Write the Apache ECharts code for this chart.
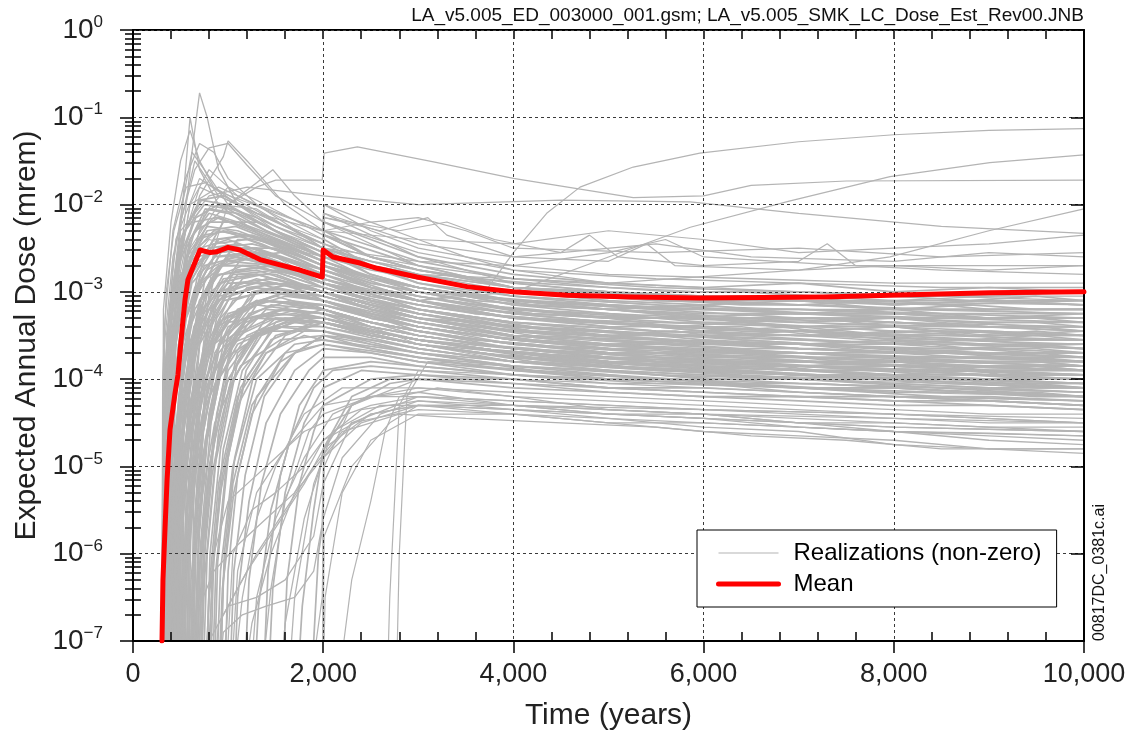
<!DOCTYPE html>
<html>
<head>
<meta charset="utf-8">
<title>Expected Annual Dose</title>
<script src="https://cdn.jsdelivr.net/npm/echarts@6/dist/echarts.min.js"></script>
<style>
  html, body { margin: 0; padding: 0; background: #fff; }
  #main { width: 1128px; height: 735px; }
</style>
</head>
<body>
<div id="main"></div>
<script>
/* realization curves: flat lists of [time, log10(dose)] pairs */
var earlyPeaks = [
  [300,-8, 330,-3.6, 420,-2.6, 650,-1.5, 900,-1.9, 1300,-2.1, 1990,-2.3, 2010,-2.0, 2500,-2.3, 3000,-2.5, 4000,-2.7, 5000,-2.8, 6500,-2.85, 8000,-2.9, 10000,-2.9],
  [310,-8, 340,-3.9, 450,-2.9, 600,-1.0, 700,-1.6, 900,-2.0, 1400,-2.4, 2000,-2.7, 3000,-3.0, 4000,-3.1, 6000,-3.3, 8000,-3.35, 10000,-3.4],
  [330,-8, 380,-4.0, 500,-2.6, 620,-1.4, 700,-0.72, 780,-1.0, 900,-1.6, 1100,-2.0, 1500,-2.3, 2000,-2.5, 3000,-2.8, 4000,-3.0, 6000,-3.1, 8000,-3.2, 10000,-3.25],
  [300,-8, 325,-4.3, 400,-3.3, 550,-2.5, 700,-1.9, 950,-1.45, 1000,-1.27, 1200,-1.5, 1600,-2.0, 2000,-2.3, 2010,-2.1, 3000,-2.6, 4000,-2.9, 5500,-3.05, 7000,-3.1, 10000,-3.15],
  [320,-8, 360,-3.5, 500,-2.2, 650,-1.6, 800,-1.35, 1000,-1.3, 1200,-1.55, 1500,-1.9, 2000,-2.2, 3000,-2.7, 4000,-2.95, 6000,-3.1, 8000,-3.1, 10000,-3.0],
  [340,-8, 400,-4.0, 520,-3.0, 700,-2.3, 1000,-2.0, 1300,-1.75, 1470,-1.6, 1700,-1.9, 2000,-2.2, 2010,-2.0, 2500,-2.2, 3000,-2.4, 3500,-2.6, 4000,-2.75, 5000,-2.9, 7000,-3.0, 10000,-3.1],
  [300,-8, 320,-3.2, 400,-2.2, 500,-1.5, 600,-1.15, 700,-1.5, 850,-1.8, 1100,-2.0, 1500,-2.25, 2000,-2.45, 2010,-2.2, 3000,-2.55, 4000,-2.75, 5500,-2.85, 7000,-2.9, 8500,-2.95, 10000,-2.95],
  [310,-8, 330,-3.4, 420,-2.3, 550,-1.7, 700,-1.3, 850,-1.4, 1000,-1.7, 1300,-2.0, 2000,-2.5, 3000,-2.8, 4000,-2.95, 5500,-3.05, 7000,-3.1, 8500,-3.1, 10000,-3.15],
  [300,-8, 330,-4.0, 420,-2.7, 550,-1.8, 620,-1.4, 750,-1.6, 1000,-2.0, 1500,-2.3, 2000,-2.55, 3000,-2.85, 4000,-3.05, 5500,-3.15, 7000,-3.2, 8500,-3.2, 10000,-3.25],
  [300,-8, 312,-4.0, 350,-3.0, 430,-2.3, 560,-1.8, 760,-1.75, 1100,-1.95, 1600,-2.25, 2000,-2.45, 2500,-2.6, 3000,-2.7, 4000,-2.85, 5000,-2.95, 6000,-3.0, 7000,-3.0, 8000,-3.05, 9000,-3.05, 10000,-3.05]
];

var upperLines = [
  [600,-8, 700,-4.0, 850,-2.5, 1000,-2.0, 1300,-1.8, 1500,-1.72, 1990,-1.72, 2010,-1.41, 2360,-1.34, 3160,-1.51, 4000,-1.70, 4570,-1.80, 5260,-1.92, 6000,-1.9, 6500,-1.78, 7500,-1.73, 10000,-1.72],
  [300,-8, 340,-4.0, 500,-2.8, 800,-2.4, 1500,-2.6, 2000,-2.9, 3000,-3.1, 3700,-3.0, 4000,-2.55, 4350,-2.1, 4700,-1.8, 5260,-1.57, 5960,-1.41, 7000,-1.28, 8000,-1.2, 9000,-1.15, 10000,-1.13],
  [350,-8, 420,-3.8, 600,-2.7, 900,-2.5, 2000,-2.9, 3000,-3.1, 4000,-3.0, 5000,-2.6, 5860,-2.26, 6900,-1.96, 7960,-1.68, 9010,-1.52, 10000,-1.43],
  [330,-8, 380,-3.6, 550,-2.6, 900,-2.3, 2000,-2.6, 3000,-2.8, 5000,-2.9, 7000,-2.75, 7960,-2.6, 9000,-2.3, 10000,-2.05],
  [310,-8, 350,-3.5, 500,-2.3, 800,-1.9, 1200,-1.8, 2000,-1.9, 3000,-2.0, 4500,-1.95, 5860,-1.97, 7000,-2.1, 8500,-2.25, 10000,-2.33],
  [320,-8, 370,-3.4, 600,-2.0, 900,-1.8, 1300,-2.0, 2000,-2.3, 3000,-2.4, 4000,-2.45, 5000,-2.3, 6000,-2.4, 7000,-2.55, 8000,-2.5, 9000,-2.45, 10000,-2.35],
  [300,-8, 340,-3.8, 450,-2.4, 700,-1.7, 900,-1.85, 1500,-2.1, 2000,-2.3, 2500,-2.2, 3000,-2.15, 3500,-2.3, 4000,-2.5, 5500,-2.55, 7000,-2.5, 8500,-2.6, 10000,-2.55],
  [330,-8, 370,-3.9, 480,-2.8, 600,-2.0, 800,-1.6, 1100,-1.9, 2000,-2.4, 2010,-2.15, 2800,-2.3, 3300,-2.2, 3800,-2.4, 4500,-2.55, 5500,-2.45, 6500,-2.6, 8000,-2.65, 9000,-2.55, 10000,-2.6],
  [350,-8, 420,-3.5, 600,-2.5, 900,-2.0, 1300,-2.05, 2000,-2.5, 3000,-2.65, 4000,-2.7, 5000,-2.55, 5600,-2.4, 6000,-2.6, 7500,-2.7, 10000,-2.7],
  [360,-8, 390,-3.8, 500,-2.5, 700,-1.8, 1000,-1.95, 1500,-2.2, 2000,-2.4, 2010,-2.15, 2600,-2.3, 3100,-2.15, 3300,-2.35, 4000,-2.6, 4500,-2.55, 4800,-2.35, 5100,-2.6, 6000,-2.7, 7000,-2.65, 7300,-2.45, 7600,-2.7, 8500,-2.75, 10000,-2.8],
  [400,-8, 440,-4.2, 550,-2.9, 750,-2.1, 1000,-1.8, 1300,-1.95, 2000,-2.35, 2010,-2.1, 3000,-2.45, 4000,-2.6, 5000,-2.65, 5400,-2.45, 5700,-2.7, 7000,-2.75, 8000,-2.7, 9000,-2.75, 10000,-2.7]
];

var mainBand = [
  [300,-8, 330,-5, 380,-3.9, 500,-3.0, 700,-2.5, 1000,-2.4, 1500,-2.6, 2000,-2.8, 3000,-3.1, 4000,-3.3, 5500,-3.35, 7000,-3.4, 8500,-3.38, 10000,-3.45],
  [310,-8, 350,-5.5, 420,-4.2, 550,-3.3, 750,-2.7, 1100,-2.6, 1600,-2.75, 2000,-2.9, 2010,-2.65, 3000,-3.0, 4000,-3.2, 5500,-3.3, 7000,-3.25, 8500,-3.3, 10000,-3.3],
  [320,-8, 360,-6, 450,-4.8, 600,-3.8, 800,-3.2, 1100,-2.9, 1500,-2.9, 2000,-3.0, 3000,-3.3, 4000,-3.5, 5500,-3.55, 7000,-3.6, 8500,-3.65, 10000,-3.6],
  [350,-8, 380,-4.5, 450,-3.2, 600,-2.4, 800,-2.1, 1100,-2.2, 1500,-2.4, 2000,-2.6, 2010,-2.35, 3000,-2.7, 4000,-2.95, 5500,-3.1, 7000,-3.15, 8500,-3.2, 10000,-3.2],
  [380,-8, 430,-5.5, 520,-4.3, 700,-3.4, 900,-3.0, 1300,-2.85, 1700,-2.95, 2000,-3.1, 3000,-3.4, 4000,-3.55, 5500,-3.7, 7000,-3.75, 8500,-3.8, 10000,-3.85],
  [400,-8, 440,-5, 520,-3.8, 650,-3.0, 850,-2.6, 1200,-2.55, 2000,-2.85, 3000,-3.2, 4000,-3.4, 5500,-3.5, 7000,-3.55, 8500,-3.6, 10000,-3.65],
  [420,-8, 480,-6, 580,-4.7, 750,-3.8, 1000,-3.3, 1400,-3.1, 2000,-3.15, 3000,-3.4, 4000,-3.6, 5500,-3.75, 7000,-3.85, 8500,-3.9, 10000,-3.95],
  [450,-8, 490,-5.2, 560,-4.0, 700,-3.1, 900,-2.7, 1300,-2.7, 2000,-2.95, 3000,-3.25, 4000,-3.45, 5500,-3.6, 7000,-3.6, 8500,-3.7, 10000,-3.75],
  [470,-8, 540,-6.2, 650,-4.9, 800,-4.0, 1100,-3.5, 1500,-3.3, 2000,-3.35, 3000,-3.6, 4000,-3.75, 5500,-3.85, 7000,-3.9, 8500,-4.0, 10000,-4.05],
  [500,-8, 540,-5.0, 620,-3.7, 750,-2.9, 950,-2.5, 1300,-2.5, 2000,-2.75, 2010,-2.5, 3000,-2.9, 4000,-3.1, 5500,-3.2, 7000,-3.3, 8500,-3.3, 10000,-3.35],
  [520,-8, 580,-5.8, 680,-4.5, 850,-3.6, 1100,-3.2, 1500,-3.05, 2000,-3.2, 3000,-3.5, 4000,-3.65, 5500,-3.8, 7000,-3.8, 8500,-3.85, 10000,-3.9],
  [550,-8, 600,-5.4, 700,-4.0, 850,-3.2, 1100,-2.8, 1500,-2.75, 2000,-2.9, 3000,-3.15, 4000,-3.3, 5500,-3.45, 7000,-3.5, 8500,-3.45, 10000,-3.5],
  [580,-8, 640,-6, 740,-4.6, 900,-3.7, 1200,-3.3, 1600,-3.2, 2000,-3.3, 3000,-3.55, 4000,-3.7, 5500,-3.9, 7000,-3.95, 8500,-4.05, 10000,-4.1],
  [600,-8, 650,-5.6, 760,-4.3, 950,-3.4, 1300,-3.0, 2000,-3.05, 3000,-3.3, 4000,-3.45, 5500,-3.55, 7000,-3.65, 8500,-3.7, 10000,-3.7],
  [650,-8, 700,-6.2, 800,-5.0, 1000,-4.0, 1300,-3.5, 1700,-3.35, 2000,-3.4, 3000,-3.65, 4000,-3.8, 5500,-3.95, 7000,-4.0, 8500,-4.1, 10000,-4.15],
  [700,-8, 760,-5.8, 880,-4.4, 1050,-3.6, 1400,-3.2, 2000,-3.25, 3000,-3.45, 4000,-3.6, 5500,-3.7, 7000,-3.8, 8500,-3.8, 10000,-3.85],
  [750,-8, 800,-6.4, 900,-5.2, 1100,-4.2, 1400,-3.7, 1800,-3.5, 2000,-3.55, 3000,-3.75, 4000,-3.9, 5500,-4.0, 7000,-4.1, 8500,-4.15, 10000,-4.2],
  [330,-8, 350,-4.2, 420,-3.0, 550,-2.3, 750,-2.0, 1000,-2.05, 1400,-2.3, 2000,-2.55, 2010,-2.3, 3000,-2.65, 4000,-2.85, 5500,-2.95, 7000,-3.0, 8500,-3.05, 10000,-3.0],
  [360,-8, 400,-5.0, 480,-3.6, 620,-2.8, 850,-2.4, 1200,-2.35, 2000,-2.7, 3000,-3.05, 4000,-3.25, 5500,-3.4, 7000,-3.45, 8500,-3.5, 10000,-3.5],
  [390,-8, 420,-5.2, 500,-4.0, 650,-3.2, 900,-2.8, 1300,-2.75, 2000,-3.0, 3000,-3.3, 4000,-3.5, 5500,-3.6, 7000,-3.7, 8500,-3.7, 10000,-3.8],
  [440,-8, 470,-6, 550,-4.8, 700,-3.6, 950,-3.1, 1400,-3.0, 2000,-3.1, 3000,-3.35, 4000,-3.55, 5500,-3.65, 7000,-3.7, 8500,-3.8, 10000,-3.8],
  [480,-8, 510,-5.5, 590,-4.2, 720,-3.3, 950,-2.85, 1300,-2.8, 2000,-3.0, 2010,-2.75, 3000,-3.1, 4000,-3.3, 5500,-3.4, 7000,-3.45, 8500,-3.55, 10000,-3.55],
  [530,-8, 560,-6, 650,-4.6, 800,-3.6, 1050,-3.1, 1500,-2.95, 2000,-3.05, 3000,-3.35, 4000,-3.5, 5500,-3.65, 7000,-3.75, 8500,-3.75, 10000,-3.8],
  [620,-8, 660,-5.4, 760,-4.1, 920,-3.3, 1200,-2.95, 1600,-2.9, 2000,-3.0, 3000,-3.25, 4000,-3.4, 5500,-3.5, 7000,-3.5, 8500,-3.6, 10000,-3.6],
  [680,-8, 720,-6.1, 820,-4.9, 1000,-3.9, 1300,-3.45, 1800,-3.3, 2000,-3.35, 3000,-3.6, 4000,-3.75, 5500,-3.85, 7000,-3.95, 8500,-4.0, 10000,-4.0],
  [800,-8, 850,-6.0, 950,-4.8, 1150,-3.9, 1500,-3.4, 2000,-3.4, 3000,-3.6, 4000,-3.7, 5500,-3.8, 7000,-3.85, 8500,-3.9, 10000,-3.95],
  [900,-8, 950,-6.3, 1050,-5.2, 1250,-4.3, 1600,-3.7, 2000,-3.6, 3000,-3.75, 4000,-3.85, 5500,-3.95, 7000,-4.05, 8500,-4.1, 10000,-4.2],
  [340,-8, 370,-4.6, 440,-3.4, 560,-2.6, 780,-2.25, 1100,-2.3, 1600,-2.5, 2000,-2.7, 3000,-2.95, 4000,-3.1, 5500,-3.2, 7000,-3.2, 8500,-3.25, 10000,-3.3],
  [370,-8, 410,-5.8, 500,-4.4, 650,-3.5, 900,-3.0, 1300,-2.9, 2000,-3.1, 3000,-3.45, 4000,-3.65, 5500,-3.75, 7000,-3.85, 8500,-3.9, 10000,-3.9],
  [410,-8, 450,-6.5, 560,-5.2, 720,-4.2, 1000,-3.6, 1500,-3.4, 2000,-3.45, 3000,-3.7, 4000,-3.85, 5500,-4.0, 7000,-4.05, 8500,-4.1, 10000,-4.15],
  [460,-8, 500,-5.9, 600,-4.5, 780,-3.5, 1000,-3.0, 1400,-2.85, 2000,-2.95, 3000,-3.2, 4000,-3.35, 5500,-3.45, 7000,-3.5, 8500,-3.55, 10000,-3.6],
  [560,-8, 610,-6.3, 720,-5.0, 900,-4.0, 1200,-3.5, 1600,-3.3, 2000,-3.35, 3000,-3.55, 4000,-3.7, 5500,-3.8, 7000,-3.85, 8500,-3.95, 10000,-3.95],
  [300,-8, 315,-5.5, 360,-4.0, 460,-3.0, 650,-2.3, 900,-2.15, 1300,-2.3, 2000,-2.6, 3000,-2.85, 4000,-3.0, 5500,-3.1, 7000,-3.1, 8500,-3.15, 10000,-3.1],
  [320,-8, 345,-6.0, 400,-4.6, 520,-3.6, 720,-2.9, 1000,-2.65, 1500,-2.7, 2000,-2.85, 3000,-3.1, 4000,-3.25, 5500,-3.3, 7000,-3.35, 8500,-3.4, 10000,-3.4],
  [640,-8, 700,-5.6, 800,-4.4, 1000,-3.5, 1300,-3.1, 2000,-3.15, 3000,-3.4, 4000,-3.55, 5500,-3.65, 7000,-3.7, 8500,-3.75, 10000,-3.75],
  [720,-8, 780,-6.0, 900,-4.6, 1100,-3.7, 1500,-3.3, 2000,-3.3, 3000,-3.5, 4000,-3.65, 5500,-3.75, 7000,-3.8, 8500,-3.85, 10000,-3.9],
  [860,-8, 920,-6.2, 1050,-5.0, 1300,-4.0, 1700,-3.6, 2000,-3.55, 3000,-3.7, 4000,-3.8, 5500,-3.9, 7000,-3.95, 8500,-4.0, 10000,-4.1],
  [380,-8, 410,-5.0, 470,-3.7, 600,-2.9, 800,-2.5, 1100,-2.45, 1700,-2.65, 2000,-2.8, 2010,-2.55, 3000,-2.9, 4000,-3.05, 5500,-3.15, 7000,-3.25, 8500,-3.25, 10000,-3.25],
  [430,-8, 470,-5.3, 550,-4.0, 700,-3.1, 950,-2.65, 1400,-2.6, 2000,-2.85, 3000,-3.2, 4000,-3.35, 5500,-3.45, 7000,-3.5, 8500,-3.5, 10000,-3.55],
  [950,-8, 1000,-6.2, 1100,-5.1, 1300,-4.2, 1700,-3.7, 2000,-3.6, 3000,-3.8, 4000,-3.95, 5500,-4.05, 7000,-4.1, 8500,-4.2, 10000,-4.25]
];

var bandExtra = [
  [300,-8, 345,-4.8, 430,-3.4, 600,-2.6, 850,-2.3, 1200,-2.35, 1700,-2.55, 2000,-2.7, 2500,-2.85, 3000,-2.95, 3500,-3.05, 4000,-3.1, 5000,-3.2, 6000,-3.15, 7000,-3.25, 8000,-3.2, 9000,-3.3, 10000,-3.25],
  [315,-8, 350,-5.4, 440,-3.9, 620,-2.9, 900,-2.55, 1300,-2.5, 2000,-2.8, 2500,-3.0, 3000,-3.1, 4000,-3.3, 5000,-3.35, 6000,-3.45, 7000,-3.4, 8000,-3.5, 9000,-3.45, 10000,-3.5],
  [335,-8, 370,-6.2, 460,-4.6, 640,-3.4, 900,-2.9, 1300,-2.8, 2000,-3.0, 2500,-3.2, 3000,-3.35, 4000,-3.5, 5000,-3.6, 6000,-3.55, 7000,-3.65, 8000,-3.7, 9000,-3.65, 10000,-3.7],
  [350,-8, 370,-5.0, 430,-3.5, 560,-2.5, 760,-2.05, 1000,-2.1, 1500,-2.35, 2000,-2.6, 2010,-2.35, 2500,-2.6, 3000,-2.75, 4000,-2.95, 5000,-3.0, 6000,-3.1, 7000,-3.05, 8000,-3.15, 9000,-3.1, 10000,-3.15],
  [365,-8, 400,-5.6, 480,-4.2, 640,-3.1, 900,-2.6, 1300,-2.55, 2000,-2.75, 2500,-2.95, 3000,-3.1, 4000,-3.25, 5000,-3.35, 6000,-3.4, 7000,-3.45, 8000,-3.4, 9000,-3.5, 10000,-3.45],
  [400,-8, 430,-6.3, 520,-5.0, 680,-3.9, 950,-3.3, 1400,-3.1, 2000,-3.2, 2500,-3.4, 3000,-3.5, 4000,-3.65, 5000,-3.75, 6000,-3.8, 7000,-3.85, 8000,-3.8, 9000,-3.9, 10000,-3.95],
  [430,-8, 460,-5.7, 540,-4.4, 700,-3.3, 950,-2.8, 1400,-2.7, 2000,-2.9, 2500,-3.1, 3000,-3.2, 4000,-3.35, 5000,-3.45, 6000,-3.5, 7000,-3.45, 8000,-3.55, 9000,-3.6, 10000,-3.6],
  [460,-8, 520,-6.6, 620,-5.3, 800,-4.2, 1100,-3.6, 1600,-3.35, 2000,-3.35, 2500,-3.5, 3000,-3.6, 4000,-3.75, 5000,-3.85, 6000,-3.9, 7000,-3.95, 8000,-4.0, 9000,-4.05, 10000,-4.05],
  [490,-8, 530,-5.3, 610,-3.9, 760,-3.0, 1000,-2.6, 1400,-2.55, 2000,-2.8, 2010,-2.6, 2500,-2.85, 3000,-2.95, 4000,-3.15, 5000,-3.25, 6000,-3.3, 7000,-3.35, 8000,-3.3, 9000,-3.4, 10000,-3.4],
  [540,-8, 590,-6.0, 690,-4.7, 860,-3.7, 1150,-3.2, 1600,-3.05, 2000,-3.1, 2500,-3.3, 3000,-3.4, 4000,-3.55, 5000,-3.65, 6000,-3.7, 7000,-3.7, 8000,-3.75, 9000,-3.8, 10000,-3.8],
  [570,-8, 610,-5.6, 710,-4.2, 880,-3.3, 1150,-2.85, 1600,-2.75, 2000,-2.9, 2500,-3.1, 3000,-3.2, 4000,-3.4, 5000,-3.45, 6000,-3.55, 7000,-3.6, 8000,-3.55, 9000,-3.6, 10000,-3.65],
  [610,-8, 670,-6.5, 780,-5.2, 960,-4.1, 1250,-3.5, 1700,-3.3, 2000,-3.3, 2500,-3.45, 3000,-3.55, 4000,-3.7, 5000,-3.8, 6000,-3.85, 7000,-3.9, 8000,-3.95, 9000,-4.0, 10000,-4.0],
  [660,-8, 710,-5.9, 820,-4.5, 1000,-3.5, 1300,-3.0, 1700,-2.9, 2000,-3.0, 2500,-3.2, 3000,-3.3, 4000,-3.45, 5000,-3.5, 6000,-3.6, 7000,-3.6, 8000,-3.65, 9000,-3.7, 10000,-3.7],
  [740,-8, 800,-6.5, 920,-5.3, 1100,-4.3, 1400,-3.7, 1800,-3.45, 2000,-3.45, 2500,-3.55, 3000,-3.65, 4000,-3.8, 5000,-3.9, 6000,-3.95, 7000,-4.0, 8000,-4.05, 9000,-4.1, 10000,-4.1],
  [820,-8, 870,-6.2, 980,-5.0, 1180,-4.0, 1500,-3.5, 2000,-3.35, 2500,-3.45, 3000,-3.55, 4000,-3.7, 5000,-3.75, 6000,-3.85, 7000,-3.9, 8000,-3.9, 9000,-3.95, 10000,-4.0],
  [300,-8, 318,-4.5, 380,-3.2, 500,-2.4, 700,-1.95, 950,-1.9, 1300,-2.1, 2000,-2.45, 2010,-2.2, 2500,-2.4, 3000,-2.6, 4000,-2.8, 5000,-2.9, 6000,-2.95, 7000,-2.9, 8000,-3.0, 9000,-2.95, 10000,-3.0],
  [325,-8, 360,-4.9, 440,-3.5, 600,-2.6, 800,-2.2, 1100,-2.2, 1600,-2.4, 2000,-2.6, 2500,-2.75, 3000,-2.85, 4000,-3.0, 5000,-3.1, 6000,-3.15, 7000,-3.1, 8000,-3.2, 9000,-3.2, 10000,-3.2],
  [345,-8, 380,-5.3, 460,-3.8, 620,-2.85, 850,-2.45, 1200,-2.4, 1700,-2.6, 2000,-2.75, 2500,-2.95, 3000,-3.05, 4000,-3.2, 5000,-3.3, 6000,-3.3, 7000,-3.4, 8000,-3.35, 9000,-3.4, 10000,-3.45],
  [375,-8, 420,-6.0, 500,-4.7, 660,-3.6, 900,-3.05, 1300,-2.95, 2000,-3.1, 2500,-3.25, 3000,-3.4, 4000,-3.55, 5000,-3.6, 6000,-3.7, 7000,-3.7, 8000,-3.75, 9000,-3.75, 10000,-3.8],
  [395,-8, 425,-5.4, 500,-4.0, 650,-3.0, 880,-2.55, 1250,-2.5, 2000,-2.8, 2010,-2.55, 2500,-2.8, 3000,-2.95, 4000,-3.1, 5000,-3.2, 6000,-3.25, 7000,-3.25, 8000,-3.3, 9000,-3.35, 10000,-3.35],
  [445,-8, 490,-6.1, 580,-4.8, 740,-3.8, 1000,-3.25, 1450,-3.1, 2000,-3.2, 2500,-3.35, 3000,-3.45, 4000,-3.6, 5000,-3.7, 6000,-3.75, 7000,-3.75, 8000,-3.85, 9000,-3.85, 10000,-3.9],
  [505,-8, 550,-5.7, 640,-4.3, 800,-3.35, 1050,-2.9, 1500,-2.85, 2000,-3.0, 2500,-3.15, 3000,-3.25, 4000,-3.4, 5000,-3.5, 6000,-3.5, 7000,-3.55, 8000,-3.6, 9000,-3.6, 10000,-3.65],
  [595,-8, 640,-6.0, 740,-4.6, 900,-3.6, 1200,-3.15, 1600,-3.0, 2000,-3.1, 2500,-3.25, 3000,-3.35, 4000,-3.5, 5000,-3.6, 6000,-3.6, 7000,-3.65, 8000,-3.7, 9000,-3.7, 10000,-3.75],
  [700,-8, 750,-6.3, 860,-5.0, 1050,-4.0, 1350,-3.5, 1800,-3.3, 2000,-3.3, 2500,-3.45, 3000,-3.55, 4000,-3.7, 5000,-3.75, 6000,-3.85, 7000,-3.85, 8000,-3.9, 9000,-3.95, 10000,-3.95],
  [1050,-8, 1100,-6.5, 1220,-5.4, 1400,-4.5, 1700,-3.9, 2000,-3.65, 2500,-3.7, 3000,-3.8, 4000,-3.9, 5000,-4.0, 6000,-4.05, 7000,-4.1, 8000,-4.1, 9000,-4.15, 10000,-4.2],
  [1150,-8, 1220,-6.3, 1350,-5.2, 1550,-4.4, 1850,-3.9, 2000,-3.75, 2500,-3.75, 3000,-3.85, 4000,-3.95, 5000,-4.05, 6000,-4.05, 7000,-4.15, 8000,-4.2, 9000,-4.2, 10000,-4.25],
  [1250,-8, 1320,-6.6, 1450,-5.5, 1650,-4.7, 1900,-4.1, 2100,-3.9, 2500,-3.85, 3000,-3.9, 4000,-4.0, 5000,-4.1, 6000,-4.1, 7000,-4.15, 8000,-4.2, 9000,-4.25, 10000,-4.3],
  [1400,-8, 1470,-6.4, 1600,-5.3, 1800,-4.5, 2000,-4.1, 2400,-3.9, 3000,-3.95, 4000,-4.05, 5000,-4.15, 6000,-4.2, 7000,-4.2, 8000,-4.25, 9000,-4.3, 10000,-4.35],
  [1700,-8, 1780,-6.6, 1900,-5.5, 2000,-4.8, 2300,-4.2, 2700,-4.0, 3000,-4.0, 4000,-4.1, 5000,-4.15, 6000,-4.2, 7000,-4.25, 8000,-4.3, 9000,-4.3, 10000,-4.35],
  [300,-8, 320,-5.8, 370,-4.3, 470,-3.3, 650,-2.7, 900,-2.5, 1300,-2.55, 2000,-2.9, 2500,-3.05, 3000,-3.15, 4000,-3.3, 5000,-3.35, 6000,-3.45, 7000,-3.5, 8000,-3.5, 9000,-3.55, 10000,-3.55],
  [310,-8, 335,-6.5, 400,-5.0, 520,-3.9, 720,-3.2, 1000,-2.9, 1500,-2.9, 2000,-3.05, 2500,-3.2, 3000,-3.3, 4000,-3.45, 5000,-3.55, 6000,-3.6, 7000,-3.6, 8000,-3.7, 9000,-3.7, 10000,-3.75],
  [355,-8, 395,-6.8, 490,-5.5, 660,-4.3, 920,-3.6, 1300,-3.3, 2000,-3.35, 2500,-3.5, 3000,-3.6, 4000,-3.75, 5000,-3.85, 6000,-3.9, 7000,-3.95, 8000,-3.95, 9000,-4.0, 10000,-4.05],
  [420,-8, 450,-5.1, 530,-3.7, 680,-2.8, 900,-2.4, 1250,-2.35, 1700,-2.5, 2000,-2.65, 2010,-2.4, 2500,-2.7, 3000,-2.85, 4000,-3.05, 5000,-3.15, 6000,-3.2, 7000,-3.2, 8000,-3.25, 9000,-3.3, 10000,-3.3],
  [470,-8, 510,-6.4, 600,-5.1, 760,-4.0, 1000,-3.4, 1450,-3.15, 2000,-3.2, 2500,-3.4, 3000,-3.5, 4000,-3.65, 5000,-3.7, 6000,-3.8, 7000,-3.8, 8000,-3.85, 9000,-3.9, 10000,-3.9],
  [520,-8, 560,-5.2, 650,-3.8, 800,-2.9, 1050,-2.5, 1500,-2.5, 2000,-2.7, 2500,-2.9, 3000,-3.0, 4000,-3.2, 5000,-3.25, 6000,-3.35, 7000,-3.4, 8000,-3.4, 9000,-3.45, 10000,-3.5],
  [630,-8, 680,-6.0, 780,-4.7, 950,-3.8, 1250,-3.3, 1700,-3.15, 2000,-3.2, 2500,-3.35, 3000,-3.45, 4000,-3.6, 5000,-3.65, 6000,-3.75, 7000,-3.75, 8000,-3.8, 9000,-3.85, 10000,-3.85],
  [760,-8, 810,-6.0, 920,-4.8, 1100,-3.8, 1400,-3.3, 1900,-3.15, 2000,-3.15, 2500,-3.3, 3000,-3.4, 4000,-3.55, 5000,-3.6, 6000,-3.65, 7000,-3.7, 8000,-3.75, 9000,-3.75, 10000,-3.8],
  [880,-8, 940,-6.4, 1060,-5.3, 1250,-4.4, 1550,-3.8, 2000,-3.5, 2500,-3.6, 3000,-3.7, 4000,-3.85, 5000,-3.9, 6000,-4.0, 7000,-4.0, 8000,-4.05, 9000,-4.1, 10000,-4.15],
  [330,-8, 355,-5.1, 420,-3.7, 540,-2.8, 740,-2.35, 1000,-2.3, 1500,-2.45, 2000,-2.65, 2500,-2.85, 3000,-2.95, 4000,-3.1, 5000,-3.15, 6000,-3.2, 7000,-3.25, 8000,-3.25, 9000,-3.3, 10000,-3.3],
  [360,-8, 390,-4.6, 470,-3.3, 600,-2.4, 800,-2.05, 1100,-2.1, 1600,-2.35, 2000,-2.55, 2500,-2.7, 3000,-2.8, 4000,-2.95, 5000,-3.05, 6000,-3.1, 7000,-3.15, 8000,-3.1, 9000,-3.2, 10000,-3.2],
  [480,-8, 520,-4.8, 600,-3.4, 740,-2.6, 950,-2.2, 1300,-2.2, 2000,-2.55, 2010,-2.3, 2500,-2.6, 3000,-2.75, 4000,-2.95, 5000,-3.0, 6000,-3.05, 7000,-3.1, 8000,-3.15, 9000,-3.1, 10000,-3.15],
  [560,-8, 600,-5.0, 700,-3.6, 860,-2.8, 1100,-2.4, 1500,-2.4, 2000,-2.65, 2500,-2.85, 3000,-2.95, 4000,-3.15, 5000,-3.2, 6000,-3.3, 7000,-3.3, 8000,-3.35, 9000,-3.4, 10000,-3.4],
  [305,-8, 325,-5.1, 380,-3.6, 480,-2.7, 660,-2.15, 900,-2.0, 1300,-2.15, 2000,-2.5, 2500,-2.65, 3000,-2.75, 4000,-2.9, 5000,-3.0, 6000,-3.05, 7000,-3.05, 8000,-3.1, 9000,-3.1, 10000,-3.1],
  [340,-8, 380,-6.6, 470,-5.3, 630,-4.1, 880,-3.4, 1300,-3.15, 2000,-3.25, 2500,-3.45, 3000,-3.55, 4000,-3.7, 5000,-3.8, 6000,-3.85, 7000,-3.9, 8000,-3.9, 9000,-3.95, 10000,-4.0],
  [900,-8, 960,-6.0, 1070,-4.9, 1260,-4.0, 1600,-3.5, 2000,-3.35, 2500,-3.45, 3000,-3.55, 4000,-3.65, 5000,-3.75, 6000,-3.8, 7000,-3.8, 8000,-3.85, 9000,-3.9, 10000,-3.9],
  [1000,-8, 1060,-6.2, 1180,-5.1, 1380,-4.2, 1700,-3.7, 2000,-3.5, 2500,-3.55, 3000,-3.65, 4000,-3.8, 5000,-3.85, 6000,-3.9, 7000,-3.95, 8000,-4.0, 9000,-4.0, 10000,-4.05],
  [1350,-8, 1420,-6.2, 1550,-5.1, 1750,-4.3, 2000,-3.9, 2500,-3.8, 3000,-3.85, 4000,-3.95, 5000,-4.0, 6000,-4.05, 7000,-4.1, 8000,-4.15, 9000,-4.15, 10000,-4.2],
  [1550,-8, 1620,-6.3, 1750,-5.2, 1900,-4.6, 2000,-4.3, 2500,-4.0, 3000,-3.95, 4000,-4.0, 5000,-4.1, 6000,-4.15, 7000,-4.2, 8000,-4.2, 9000,-4.25, 10000,-4.3],
  [1850,-8, 1950,-6.0, 1990,-5.7, 2010,-4.8, 2300,-4.3, 2700,-4.05, 3000,-4.0, 4000,-4.05, 5000,-4.1, 6000,-4.15, 7000,-4.2, 8000,-4.25, 9000,-4.25, 10000,-4.3]
];

var bandMore = [
  [305,-8, 330,-5.6, 390,-4.1, 500,-3.1, 680,-2.6, 950,-2.5, 1400,-2.6, 2000,-2.85, 2500,-3.0, 3000,-3.1, 3600,-3.2, 4200,-3.25, 5000,-3.3, 5700,-3.4, 6400,-3.35, 7200,-3.45, 8000,-3.4, 8800,-3.5, 9500,-3.45, 10000,-3.5],
  [320,-8, 350,-6.3, 420,-4.9, 560,-3.7, 760,-3.05, 1050,-2.8, 1500,-2.8, 2000,-3.0, 2500,-3.15, 3000,-3.3, 3600,-3.35, 4200,-3.45, 5000,-3.5, 5700,-3.45, 6400,-3.55, 7200,-3.6, 8000,-3.55, 8800,-3.65, 9500,-3.6, 10000,-3.65],
  [340,-8, 365,-5.9, 430,-4.4, 560,-3.3, 770,-2.75, 1050,-2.6, 1500,-2.7, 2000,-2.9, 2010,-2.7, 2500,-2.95, 3000,-3.05, 3600,-3.15, 4200,-3.2, 5000,-3.3, 5700,-3.25, 6400,-3.35, 7200,-3.3, 8000,-3.4, 8800,-3.35, 9500,-3.4, 10000,-3.4],
  [360,-8, 400,-6.7, 480,-5.4, 620,-4.3, 850,-3.6, 1200,-3.3, 1700,-3.25, 2000,-3.3, 2500,-3.45, 3000,-3.55, 3600,-3.65, 4200,-3.7, 5000,-3.8, 5700,-3.85, 6400,-3.8, 7200,-3.9, 8000,-3.95, 8800,-3.9, 9500,-4.0, 10000,-4.0],
  [380,-8, 405,-5.8, 470,-4.5, 600,-3.4, 820,-2.85, 1150,-2.7, 1700,-2.8, 2000,-2.95, 2500,-3.1, 3000,-3.2, 3600,-3.3, 4200,-3.4, 5000,-3.45, 5700,-3.5, 6400,-3.5, 7200,-3.55, 8000,-3.6, 8800,-3.55, 9500,-3.6, 10000,-3.6],
  [410,-8, 440,-6.0, 510,-4.8, 650,-3.7, 880,-3.1, 1250,-2.95, 1800,-3.0, 2000,-3.1, 2500,-3.25, 3000,-3.35, 3600,-3.45, 4200,-3.55, 5000,-3.6, 5700,-3.65, 6400,-3.7, 7200,-3.7, 8000,-3.75, 8800,-3.8, 9500,-3.8, 10000,-3.85],
  [450,-8, 480,-5.6, 560,-4.2, 700,-3.2, 930,-2.7, 1300,-2.6, 1800,-2.75, 2000,-2.85, 2500,-3.0, 3000,-3.1, 3600,-3.25, 4200,-3.3, 5000,-3.35, 5700,-3.4, 6400,-3.4, 7200,-3.5, 8000,-3.45, 8800,-3.5, 9500,-3.55, 10000,-3.55],
  [490,-8, 540,-6.5, 630,-5.2, 780,-4.1, 1050,-3.5, 1450,-3.3, 2000,-3.35, 2500,-3.5, 3000,-3.6, 3600,-3.7, 4200,-3.75, 5000,-3.85, 5700,-3.9, 6400,-3.9, 7200,-3.95, 8000,-4.0, 8800,-4.05, 9500,-4.05, 10000,-4.1],
  [530,-8, 570,-5.5, 660,-4.1, 820,-3.2, 1080,-2.75, 1500,-2.7, 2000,-2.9, 2500,-3.05, 3000,-3.15, 3600,-3.25, 4200,-3.3, 5000,-3.4, 5700,-3.4, 6400,-3.45, 7200,-3.45, 8000,-3.5, 8800,-3.55, 9500,-3.5, 10000,-3.55],
  [580,-8, 630,-6.2, 730,-4.9, 900,-3.9, 1180,-3.35, 1600,-3.2, 2000,-3.25, 2500,-3.4, 3000,-3.5, 3600,-3.6, 4200,-3.65, 5000,-3.75, 5700,-3.75, 6400,-3.8, 7200,-3.85, 8000,-3.85, 8800,-3.9, 9500,-3.95, 10000,-3.95],
  [640,-8, 690,-5.8, 800,-4.4, 970,-3.5, 1250,-3.0, 1700,-2.9, 2000,-3.0, 2500,-3.15, 3000,-3.25, 3600,-3.35, 4200,-3.45, 5000,-3.5, 5700,-3.55, 6400,-3.6, 7200,-3.6, 8000,-3.65, 8800,-3.65, 9500,-3.7, 10000,-3.7],
  [700,-8, 740,-5.9, 850,-4.6, 1030,-3.6, 1330,-3.1, 1800,-2.95, 2000,-3.0, 2500,-3.2, 3000,-3.3, 3600,-3.4, 4200,-3.5, 5000,-3.55, 5700,-3.6, 6400,-3.65, 7200,-3.65, 8000,-3.7, 8800,-3.75, 9500,-3.75, 10000,-3.8],
  [780,-8, 830,-6.3, 940,-5.1, 1130,-4.1, 1450,-3.55, 1900,-3.35, 2000,-3.35, 2500,-3.5, 3000,-3.6, 3600,-3.7, 4200,-3.8, 5000,-3.85, 5700,-3.9, 6400,-3.95, 7200,-4.0, 8000,-4.0, 8800,-4.05, 9500,-4.1, 10000,-4.1],
  [300,-8, 322,-4.9, 375,-3.5, 470,-2.65, 640,-2.2, 880,-2.15, 1250,-2.3, 1800,-2.55, 2000,-2.65, 2010,-2.45, 2500,-2.7, 3000,-2.85, 3600,-2.95, 4200,-3.0, 5000,-3.05, 5700,-3.1, 6400,-3.15, 7200,-3.15, 8000,-3.2, 8800,-3.15, 9500,-3.2, 10000,-3.2],
  [315,-8, 340,-5.2, 400,-3.8, 500,-2.9, 680,-2.4, 950,-2.3, 1350,-2.45, 2000,-2.75, 2500,-2.9, 3000,-3.0, 3600,-3.1, 4200,-3.15, 5000,-3.2, 5700,-3.25, 6400,-3.3, 7200,-3.3, 8000,-3.3, 8800,-3.35, 9500,-3.35, 10000,-3.4],
  [335,-8, 360,-6.8, 420,-5.6, 540,-4.5, 740,-3.7, 1000,-3.35, 1500,-3.25, 2000,-3.3, 2500,-3.45, 3000,-3.55, 3600,-3.65, 4200,-3.75, 5000,-3.8, 5700,-3.85, 6400,-3.9, 7200,-3.95, 8000,-3.95, 8800,-4.0, 9500,-4.05, 10000,-4.05],
  [355,-8, 385,-5.0, 450,-3.6, 570,-2.7, 780,-2.3, 1080,-2.25, 1550,-2.45, 2000,-2.65, 2500,-2.85, 3000,-2.95, 3600,-3.05, 4200,-3.1, 5000,-3.15, 5700,-3.2, 6400,-3.2, 7200,-3.25, 8000,-3.25, 8800,-3.3, 9500,-3.3, 10000,-3.35],
  [390,-8, 430,-6.4, 510,-5.1, 660,-4.0, 900,-3.35, 1300,-3.1, 1900,-3.15, 2000,-3.2, 2500,-3.35, 3000,-3.45, 3600,-3.55, 4200,-3.6, 5000,-3.7, 5700,-3.7, 6400,-3.75, 7200,-3.8, 8000,-3.8, 8800,-3.85, 9500,-3.85, 10000,-3.9],
  [425,-8, 455,-5.3, 530,-3.9, 670,-2.95, 900,-2.5, 1250,-2.45, 1800,-2.6, 2000,-2.7, 2010,-2.5, 2500,-2.8, 3000,-2.95, 3600,-3.05, 4200,-3.15, 5000,-3.2, 5700,-3.25, 6400,-3.3, 7200,-3.3, 8000,-3.35, 8800,-3.4, 9500,-3.4, 10000,-3.45],
  [470,-8, 500,-6.6, 580,-5.4, 730,-4.4, 980,-3.75, 1400,-3.45, 2000,-3.45, 2500,-3.6, 3000,-3.7, 3600,-3.8, 4200,-3.9, 5000,-3.95, 5700,-4.0, 6400,-4.05, 7200,-4.05, 8000,-4.1, 8800,-4.15, 9500,-4.15, 10000,-4.2],
  [510,-8, 545,-5.9, 630,-4.6, 780,-3.6, 1020,-3.05, 1450,-2.9, 2000,-3.0, 2500,-3.15, 3000,-3.3, 3600,-3.4, 4200,-3.45, 5000,-3.5, 5700,-3.55, 6400,-3.6, 7200,-3.6, 8000,-3.65, 8800,-3.7, 9500,-3.7, 10000,-3.75],
  [600,-8, 640,-5.3, 740,-3.9, 900,-3.0, 1150,-2.6, 1550,-2.55, 2000,-2.75, 2500,-2.95, 3000,-3.05, 3600,-3.15, 4200,-3.25, 5000,-3.3, 5700,-3.35, 6400,-3.35, 7200,-3.4, 8000,-3.45, 8800,-3.45, 9500,-3.5, 10000,-3.5],
  [670,-8, 720,-6.4, 830,-5.1, 1010,-4.1, 1320,-3.5, 1800,-3.3, 2000,-3.3, 2500,-3.45, 3000,-3.55, 3600,-3.65, 4200,-3.7, 5000,-3.8, 5700,-3.8, 6400,-3.85, 7200,-3.9, 8000,-3.95, 8800,-3.95, 9500,-4.0, 10000,-4.0],
  [840,-8, 890,-6.1, 1000,-4.9, 1190,-3.9, 1500,-3.35, 2000,-3.2, 2500,-3.35, 3000,-3.45, 3600,-3.55, 4200,-3.6, 5000,-3.7, 5700,-3.7, 6400,-3.75, 7200,-3.8, 8000,-3.8, 8800,-3.85, 9500,-3.85, 10000,-3.9],
  [330,-8, 352,-4.4, 410,-3.1, 520,-2.35, 720,-1.95, 980,-2.0, 1400,-2.25, 2000,-2.6, 2010,-2.35, 2500,-2.6, 3000,-2.75, 3600,-2.85, 4200,-2.9, 5000,-2.95, 5700,-3.0, 6400,-3.0, 7200,-3.05, 8000,-3.05, 8800,-3.1, 9500,-3.05, 10000,-3.1],
  [300,-8, 328,-6.1, 385,-4.7, 480,-3.6, 650,-2.95, 900,-2.7, 1300,-2.7, 2000,-2.95, 2500,-3.1, 3000,-3.25, 3600,-3.35, 4200,-3.4, 5000,-3.5, 5700,-3.5, 6400,-3.55, 7200,-3.6, 8000,-3.6, 8800,-3.65, 9500,-3.65, 10000,-3.7],
  [545,-8, 600,-6.7, 700,-5.5, 860,-4.5, 1130,-3.85, 1550,-3.55, 2000,-3.5, 2500,-3.65, 3000,-3.75, 3600,-3.85, 4200,-3.9, 5000,-4.0, 5700,-4.0, 6400,-4.05, 7200,-4.1, 8000,-4.1, 8800,-4.15, 9500,-4.2, 10000,-4.2],
  [620,-8, 660,-6.0, 760,-4.7, 930,-3.75, 1220,-3.25, 1650,-3.1, 2000,-3.15, 2500,-3.3, 3000,-3.4, 3600,-3.5, 4200,-3.55, 5000,-3.65, 5700,-3.65, 6400,-3.7, 7200,-3.75, 8000,-3.75, 8800,-3.8, 9500,-3.8, 10000,-3.85]
];

var lowerFan = [
  [1000,-8, 1150,-6.5, 1300,-5.6, 1500,-5.0, 1800,-4.4, 2200,-4.1, 3000,-4.1, 4000,-4.2, 5000,-4.35, 6000,-4.4, 7000,-4.5, 8000,-4.6, 9000,-4.65, 10000,-4.7],
  [1100,-8, 1250,-6.8, 1450,-6.0, 1700,-5.3, 2000,-4.7, 2400,-4.35, 3000,-4.25, 4000,-4.35, 5000,-4.45, 6000,-4.55, 7000,-4.6, 8000,-4.75, 9000,-4.8, 10000,-4.85],
  [1200,-8, 1300,-6.5, 1500,-5.6, 1800,-4.9, 2100,-4.4, 2500,-4.2, 3000,-4.15, 4000,-4.3, 5000,-4.4, 6000,-4.45, 7000,-4.55, 8000,-4.6, 9000,-4.7, 10000,-4.75],
  [900,-8, 1000,-6.6, 1200,-6.2, 1500,-5.7, 1800,-5.2, 2000,-4.8, 2500,-4.4, 3000,-4.3, 4000,-4.4, 5000,-4.5, 6000,-4.5, 7000,-4.55, 8000,-4.6, 9000,-4.62, 10000,-4.65],
  [1300,-8, 1450,-6.4, 1600,-5.4, 1850,-4.6, 2000,-4.4, 2500,-4.2, 3000,-4.2, 4000,-4.25, 5000,-4.3, 6000,-4.35, 7000,-4.4, 8000,-4.45, 9000,-4.5, 10000,-4.5],
  [1500,-8, 1600,-6.8, 1800,-5.6, 2000,-4.9, 2300,-4.5, 3000,-4.35, 4000,-4.4, 5000,-4.5, 6000,-4.6, 7000,-4.65, 8000,-4.7, 9000,-4.8, 10000,-4.8],
  [1600,-8, 1700,-6.5, 1900,-5.2, 2100,-4.6, 2600,-4.3, 3000,-4.3, 4000,-4.3, 5000,-4.4, 6000,-4.4, 7000,-4.5, 8000,-4.5, 9000,-4.55, 10000,-4.55],
  [800,-8, 900,-6.8, 1050,-6.5, 1300,-6.0, 1600,-5.5, 1900,-5.0, 2200,-4.6, 2800,-4.4, 3500,-4.45, 4500,-4.5, 5500,-4.55, 6500,-4.65, 7500,-4.7, 8500,-4.8, 10000,-4.8],
  [700,-8, 800,-7.0, 1000,-6.6, 1300,-6.5, 1600,-6.3, 1900,-5.8, 2000,-5.2, 2300,-4.5, 3000,-4.2, 4000,-4.3, 6000,-4.4, 8000,-4.45, 10000,-4.5],
  [1000,-8, 1100,-6.2, 1300,-5.3, 1600,-4.8, 2000,-4.3, 3000,-4.1, 4000,-4.15, 5000,-4.2, 6000,-4.25, 7000,-4.3, 8000,-4.35, 9000,-4.4, 10000,-4.4],
  [600,-8, 700,-6.6, 850,-6.2, 1100,-5.9, 1400,-5.6, 1700,-5.3, 2000,-4.9, 2400,-4.5, 3000,-4.3, 4000,-4.35, 6000,-4.45, 8000,-4.55, 10000,-4.6],
  [750,-8, 850,-6.0, 1000,-5.4, 1200,-5.2, 1500,-4.9, 1800,-4.6, 2000,-4.5, 2500,-4.3, 3000,-4.2, 4000,-4.25, 6000,-4.35, 8000,-4.4, 10000,-4.5],
  [850,-8, 950,-6.9, 1150,-6.7, 1400,-6.6, 1700,-6.5, 1900,-6.2, 2000,-5.6, 2200,-4.9, 2600,-4.4, 3000,-4.25, 4000,-4.3, 6000,-4.4, 8000,-4.5, 10000,-4.6],
  [950,-8, 1050,-6.0, 1250,-5.5, 1500,-5.3, 1800,-5.0, 2000,-4.7, 2500,-4.4, 3000,-4.3, 4000,-4.35, 6000,-4.45, 8000,-4.55, 10000,-4.6]
];

var lateStarts = [
  [1990,-8, 2010,-3.2, 2500,-3.4, 3000,-3.6, 4000,-3.8, 5500,-3.9, 7000,-4.0, 8500,-4.05, 10000,-4.1],
  [1990,-8, 2020,-6.5, 2200,-5.3, 2500,-4.7, 3000,-4.4, 4000,-4.4, 6000,-4.5, 8000,-4.6, 10000,-4.65],
  [1990,-8, 2010,-5.8, 2300,-5.0, 2700,-4.5, 3000,-4.3, 4000,-4.3, 6000,-4.35, 8000,-4.4, 10000,-4.45],
  [2100,-8, 2300,-6.3, 2500,-5.4, 2650,-4.6, 2800,-4.2, 3200,-4.1, 4000,-4.2, 6000,-4.3, 8000,-4.4, 10000,-4.5],
  [2660,-8, 2700,-6.5, 2800,-4.3, 3000,-3.9, 4000,-3.95, 6000,-4.05, 8000,-4.15, 10000,-4.2],
  [2760,-8, 2800,-6.0, 2880,-4.2, 3100,-3.8, 4000,-3.85, 6000,-3.95, 8000,-4.0, 10000,-4.1],
  [1800,-8, 1990,-6.5, 2010,-5.0, 2300,-4.3, 3000,-4.0, 4000,-4.0, 6000,-4.1, 8000,-4.2, 10000,-4.25]
];

/* mean of realizations */
var meanTime = [305, 315, 336, 358, 389, 442, 473, 515, 547, 578, 705, 810, 883, 999, 1125, 1335, 1546, 1756, 1990, 2000, 2103, 2387, 2566, 2986, 3512, 3996, 4564, 5258, 5962, 7256, 7960, 9012, 10000];
var meanLog  = [-7.0, -6.3, -5.73, -5.16, -4.58, -4.16, -3.95, -3.44, -3.09, -2.86, -2.52, -2.55, -2.54, -2.49, -2.52, -2.63, -2.69, -2.75, -2.83, -2.52, -2.6, -2.67, -2.73, -2.83, -2.94, -3.0, -3.04, -3.06, -3.07, -3.06, -3.04, -3.01, -3.0];

var FONT = '"Liberation Sans", Arial, Helvetica, sans-serif';
var GRID = { left: 133, right: 44, top: 30, bottom: 94 };
var GRAY = '#b4b4b4';

function toPoints(flat) {
  var pts = [];
  for (var i = 0; i < flat.length; i += 2) {
    pts.push([flat[i], Math.pow(10, flat[i + 1])]);
  }
  return pts;
}

// log minor tick positions (2..9 in every decade)
var minorTicks = [];
for (var d = -7; d < 0; d++) {
  for (var m = 2; m <= 9; m++) minorTicks.push(m * Math.pow(10, d));
}

var series = [];
function addGroup(group, width) {
  group.forEach(function (line) {
    series.push({
      name: 'Realizations (non-zero)',
      type: 'line',
      xAxisIndex: 0, yAxisIndex: 0,
      data: toPoints(line),
      symbol: 'none', showSymbol: false,
      silent: true,
      z: 2,
      lineStyle: { color: GRAY, width: width },
      itemStyle: { color: GRAY }
    });
  });
}
addGroup(earlyPeaks, 1.3);
addGroup(upperLines, 1.2);
addGroup(mainBand, 1.7);
addGroup(bandExtra, 1.7);
addGroup(bandMore, 1.7);
addGroup(lowerFan, 1.3);
addGroup(lateStarts, 1.2);

var meanData = [];
for (var k = 0; k < meanTime.length; k++) {
  meanData.push([meanTime[k], Math.pow(10, meanLog[k])]);
}
series.push({
  name: 'Mean',
  type: 'line',
  xAxisIndex: 0, yAxisIndex: 0,
  data: meanData,
  symbol: 'none', showSymbol: false,
  z: 10,
  lineStyle: { color: '#ff0000', width: 5, cap: 'round', join: 'round' },
  itemStyle: { color: '#ff0000' }
});

function grid() {
  return { left: GRID.left, right: GRID.right, top: GRID.top, bottom: GRID.bottom, outerBoundsMode: 'none' };
}

var axisLineBlack = { show: true, lineStyle: { color: '#000', width: 2 } };
var dashed = { show: true, lineStyle: { color: '#3a3a3a', width: 1, type: [3, 3] } };

function commas(v) {
  return String(v).replace(/\B(?=(\d{3})+(?!\d))/g, ',');
}

var option = {
  animation: false,
  backgroundColor: '#fff',
  title: {
    text: 'LA_v5.005_ED_003000_001.gsm; LA_v5.005_SMK_LC_Dose_Est_Rev00.JNB',
    right: 44, top: 6, padding: 0,
    textStyle: { fontFamily: FONT, fontSize: 19, fontWeight: 'normal', color: '#111' }
  },
  legend: {
    data: [
      { name: 'Realizations (non-zero)', lineStyle: { color: GRAY, width: 1.2 } },
      { name: 'Mean', lineStyle: { color: '#ff0000', width: 5, cap: 'round' } }
    ],
    orient: 'vertical',
    left: 697, top: 530,
    padding: [11, 15, 11, 19],
    itemGap: 7,
    itemWidth: 60, itemHeight: 14,
    backgroundColor: '#fff',
    borderColor: '#000', borderWidth: 1,
    z: 20,
    itemStyle: { opacity: 0, color: 'rgba(0,0,0,0)', borderWidth: 0 },
    textStyle: { fontFamily: FONT, fontSize: 24, color: '#000', padding: [0, 0, 0, 10] }
  },
  graphic: [{
    type: 'text',
    x: 1108, y: 641,
    rotation: Math.PI / 2,
    style: { text: '00817DC_0381c.ai', fontFamily: FONT, fontSize: 16, fill: '#111', textAlign: 'left', textVerticalAlign: 'bottom' }
  }],
  grid: [grid(), grid(), grid()],
  xAxis: [
    { // bottom, labels + outward major ticks
      gridIndex: 0, type: 'value', position: 'bottom', min: 0, max: 10000, interval: 2000,
      axisLine: axisLineBlack,
      axisTick: { show: true, inside: false, length: 12, lineStyle: { color: '#000', width: 1.5 } },
      axisLabel: { show: true, margin: 20, fontFamily: FONT, fontSize: 27, color: '#222',
        showMinLabel: true, showMaxLabel: true, formatter: function (v) { return commas(v); } },
      splitLine: { show: false },
      name: 'Time (years)', nameLocation: 'middle', nameGap: 60,
      nameTextStyle: { fontFamily: FONT, fontSize: 30, color: '#222' }
    },
    { // top, inside ticks
      gridIndex: 0, type: 'value', position: 'top', min: 0, max: 10000, interval: 2000,
      axisLine: axisLineBlack,
      axisTick: { show: true, inside: true, length: 9, lineStyle: { color: '#000', width: 1.5 } },
      minorTick: { show: true, splitNumber: 5, length: 9, lineStyle: { color: '#000', width: 1.5 } },
      axisLabel: { show: false }, splitLine: { show: false }
    },
    { // bottom minor ticks inside + vertical grid lines on top of data
      gridIndex: 1, type: 'value', position: 'bottom', min: 0, max: 10000, interval: 2000, z: 5,
      axisLine: axisLineBlack,
      axisTick: { show: false, inside: true },
      minorTick: { show: true, splitNumber: 5, length: 9, lineStyle: { color: '#000', width: 1.5 } },
      axisLabel: { show: false },
      splitLine: dashed
    },
    { gridIndex: 2, type: 'value', min: 0, max: 10000, show: false }
  ],
  yAxis: [
    { // left, labels + outward major ticks
      gridIndex: 0, type: 'log', logBase: 10, position: 'left', min: 1e-7, max: 1, splitNumber: 7,
      axisLine: axisLineBlack,
      axisTick: { show: true, inside: false, length: 13, lineStyle: { color: '#000', width: 1.5 } },
      axisLabel: {
        show: true, margin: 30, showMinLabel: true, showMaxLabel: true,
        formatter: function (v) {
          var e = Math.round(Math.log(v) / Math.LN10);
          return '{b|10}{s|' + (e === 0 ? '0' : '\u2212' + (-e)) + '}';
        },
        rich: {
          b: { fontFamily: FONT, fontSize: 28, color: '#222', lineHeight: 32 },
          s: { fontFamily: FONT, fontSize: 17, color: '#222', lineHeight: 17, verticalAlign: 'top' }
        }
      },
      splitLine: { show: false },
      name: 'Expected Annual Dose (mrem)', nameLocation: 'middle', nameGap: 86, nameRotate: 90,
      nameTextStyle: { fontFamily: FONT, fontSize: 30, color: '#222' }
    },
    { // right minor ticks inside
      gridIndex: 0, type: 'log', logBase: 10, position: 'right', min: 1e-7, max: 1, splitNumber: 7,
      axisLine: axisLineBlack,
      axisTick: { show: true, inside: true, length: 8, customValues: minorTicks, lineStyle: { color: '#000', width: 1.5 } },
      axisLabel: { show: false }, splitLine: { show: false }
    },
    { // left minor ticks inside
      gridIndex: 1, type: 'log', logBase: 10, position: 'left', min: 1e-7, max: 1, splitNumber: 7, z: 5,
      axisLine: axisLineBlack,
      axisTick: { show: true, inside: true, length: 8, customValues: minorTicks, lineStyle: { color: '#000', width: 1.5 } },
      axisLabel: { show: false }, splitLine: { show: false }
    },
    { // horizontal grid lines on top of data
      gridIndex: 2, type: 'log', logBase: 10, position: 'left', min: 1e-7, max: 1, splitNumber: 7, z: 5,
      axisLine: { show: false }, axisTick: { show: false }, axisLabel: { show: false },
      splitLine: dashed
    },
    { // right major ticks inside
      gridIndex: 2, type: 'log', logBase: 10, position: 'right', min: 1e-7, max: 1, splitNumber: 7, z: 5,
      axisLine: axisLineBlack,
      axisTick: { show: true, inside: true, length: 13, lineStyle: { color: '#000', width: 1.5 } },
      axisLabel: { show: false }, splitLine: { show: false }
    }
  ],
  series: series
};

var chart = echarts.init(document.getElementById('main'), null, { renderer: 'canvas' });
chart.setOption(option);
</script>
</body>
</html>
